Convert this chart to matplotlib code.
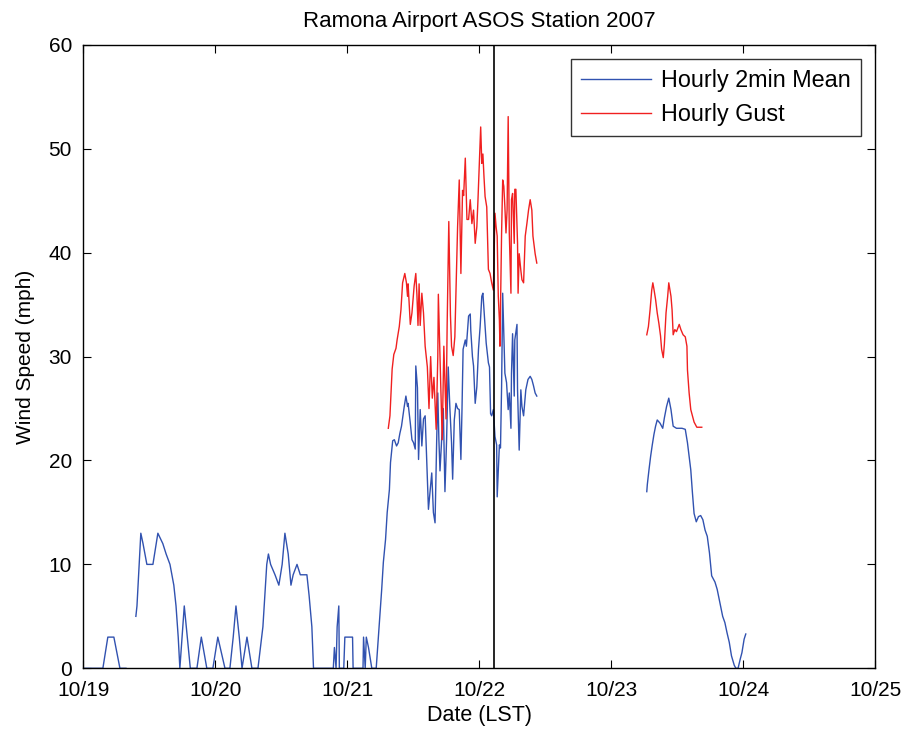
import matplotlib
matplotlib.use('Agg')
import matplotlib.pyplot as plt
import numpy as np

plt.rcParams['font.family'] = ['Liberation Sans', 'DejaVu Sans']

# hours since 10/19 00:00 LST, nan = missing obs
mean_hours = [0.0, 3.6, 4.5, 5.6, 6.7, 7.8, 8.7,
              9.6, 9.8, 10.5, 10.9, 11.6, 12.7, 13.6, 14.5, 15.1, 15.8, 16.5, 16.9, 17.3, 17.6,
              18.4, 19.5, 20.7, 21.5, 22.5, 23.6, 24.5, 25.8, 26.7, 27.3, 27.8, 28.4, 28.9, 29.8,
              30.7, 31.8, 32.7, 33.4, 33.7, 34.1, 34.9, 35.6, 36.2, 36.7, 37.3, 37.8, 38.2, 38.9,
              39.5, 40.7, 41.1, 41.6, 41.9, 45.5, 45.7, 46.0, 46.2, 46.5, 46.6, 47.4, 47.6, 49.0,
              49.1, 50.9, 51.0, 51.3, 51.5, 51.9, 52.2, 52.5, 53.3, 53.5, 53.9, 54.3, 54.6, 55.0,
              55.3, 55.7, 55.9, 56.3, 56.6, 57.0, 57.3, 57.6, 57.9, 58.4, 58.7, 59.0, 59.1, 59.5,
              59.8, 60.1, 60.4, 60.5, 60.8, 61.0, 61.3, 61.6, 61.9, 62.2, 62.5, 62.8, 63.1, 63.4,
              63.7, 64.0, 64.3, 64.5, 64.7, 64.9, 65.2, 65.5, 65.8, 66.1, 66.4, 66.7, 67.0, 67.2,
              67.5, 67.8, 68.1, 68.4, 68.7, 68.9, 69.1, 69.5, 69.7, 70.1, 70.4, 70.5, 70.8, 71.0,
              71.3, 71.6, 71.9, 72.2, 72.5, 72.7, 72.9, 73.3, 73.7, 73.9, 74.1, 74.3, 74.6, 74.9,
              75.2, 75.3, 75.7, 75.9, 76.1, 76.3, 76.5, 76.7, 77.0, 77.3, 77.5, 77.8, 77.9, 78.1,
              78.4, 78.5, 78.9, 79.0, 79.3, 79.6, 79.8, 80.1, 80.5, 80.9, 81.3, 81.6, 81.9, 82.2,
              82.5, 90.0,
              102.5, 102.6, 102.9, 103.2, 103.5, 103.8, 104.1, 104.4, 104.9, 105.4, 105.7, 106.1,
              106.5, 106.9, 107.3, 107.9, 108.9, 109.5, 109.9, 110.2, 110.5, 110.8, 111.1, 111.5,
              111.9, 112.3, 112.7, 113.1, 113.5, 113.9, 114.3, 114.9, 115.3, 115.8, 116.3, 116.7,
              117.1, 117.5, 117.9, 118.4, 118.7, 119.1, 119.5, 119.8, 120.2, 120.5]
mean_mph = [0, 0, 3, 3, 0, 0, np.nan,
            5, 6, 13, 12, 10, 10, 13, 12, 11, 10, 8, 6, 3, 0,
            6, 0, 0, 3, 0, 0, 3, 0, 0, 3, 6, 3, 0, 3,
            0, 0, 4, 10, 11, 10, 9, 8, 10, 13, 11, 8, 9, 10,
            9, 9, 7, 4, 0, 0, 2, 0, 4, 6, 0, 0, 3, 3,
            0, 0, 3, 0, 3, 2, 1, 0, 0, 1.5, 4.4, 7.6, 10.2, 12.4,
            15, 17.2, 19.8, 21.9, 22, 21.4, 21.7, 22.6, 23.3, 25.2, 26.2, 25.2, 25.5, 23.6,
            22, 21.7, 21.1, 29.1, 27, 20.1, 24.9, 21.4, 24, 24.3, 19.8, 15.3, 17, 18.8,
            15, 14, 22, 26.5, 22, 19, 22, 25, 17, 22, 29, 25, 21.7, 18.2,
            23.9, 25.5, 25, 24.9, 20.1, 24.9, 30.7, 31.6, 31, 33.9, 34.1, 32.5, 30, 29.1,
            25.5, 27.1, 30.7, 32.9, 35.8, 36.1, 34.5, 31.3, 29.4, 29, 24.5, 24.3, 24.9, 22.3,
            21.5, 16.5, 21.5, 21.2, 27.1, 36.1, 32.2, 28.4, 27.5, 24.9, 26.5, 23.1, 28.4, 32.2,
            26.2, 31.6, 33.1, 26.8, 21, 26.8, 25.2, 24.3, 26.8, 27.8, 28.1, 27.8, 27.2, 26.5,
            26.2, np.nan,
            17, 17.7, 19.1, 20.4, 21.5, 22.5, 23.3, 23.9, 23.6, 23.1, 24.1, 25.2,
            26, 24.9, 23.3, 23.1, 23.1, 23, 21.7, 20.4, 19.1, 16.9, 14.9, 14.1,
            14.6, 14.7, 14.3, 13.3, 12.7, 11.1, 8.9, 8.3, 7.6, 6.3, 5, 4.4,
            3.4, 2.5, 1.2, 0.3, 0, 0, 0.9, 1.5, 2.8, 3.3]

gust_hours = [55.5, 55.8, 56.0, 56.2, 56.5, 56.9, 57.1, 57.5, 57.8, 58.1, 58.5, 58.8, 59.0,
              59.1, 59.5, 59.8, 60.0, 60.2, 60.5, 60.7, 60.9, 61.1, 61.3, 61.6, 61.9, 62.2,
              62.6, 62.9, 63.2, 63.5, 63.8, 64.2, 64.5, 64.6, 64.9, 65.3, 65.6, 66.0, 66.2,
              66.5, 66.8, 67.0, 67.3, 67.6, 67.8, 68.1, 68.4, 68.7, 69.0, 69.2, 69.5, 69.8,
              70.1, 70.4, 70.7, 71.0, 71.3, 71.6, 71.8, 72.1, 72.3, 72.5, 72.7, 72.9, 73.1,
              73.4, 73.7, 74.0, 74.3, 74.6, 74.9, 75.1, 75.3, 75.5, 75.7, 75.8, 76.1, 76.3,
              76.5, 76.7, 76.9, 77.1, 77.3, 77.5, 77.8, 77.9, 78.1, 78.4, 78.5, 78.7, 79.0,
              79.1, 79.3, 79.6, 79.8, 80.1, 80.4, 80.7, 81.0, 81.3, 81.6, 81.8, 82.2, 82.5,
              90.0,
              102.5, 102.8, 103.1, 103.4, 103.6, 103.8, 104.1, 104.4, 104.7, 105.0, 105.2,
              105.5, 105.7, 106.0, 106.3, 106.5, 106.9, 107.1, 107.3, 107.6, 107.9, 108.4,
              108.7, 109.1, 109.5, 109.8, 109.9, 110.2, 110.5, 110.8, 111.1, 111.6, 112.5]
gust_mph = [23.1, 24.3, 26.5, 28.8, 30.2, 30.8, 31.6, 32.9, 34.5, 37.1, 38, 37.1, 35.8,
            37, 33.1, 34.2, 35.5, 36.8, 38, 36, 33, 37, 33, 36.1, 34.2, 31,
            29, 25, 30, 26, 28, 23, 30, 36, 30, 22, 31, 24, 33,
            43, 34, 31, 30.1, 31.9, 36.1, 42.5, 47, 38, 46, 45.5, 49.1, 43.2,
            43.2, 45.1, 42.8, 44.1, 40.9, 42.5, 45, 49.3, 52.1, 48.6, 49.5, 47.3, 45.4,
            44.4, 38.4, 38, 37.1, 36.4, 43.8, 42.5, 41.6, 35.8, 33.5, 31, 41.9, 47,
            46.4, 44.4, 41.9, 44.1, 53.1, 41.9, 36.1, 45.1, 45.7, 40.9, 46.1, 46.1, 40.9,
            36.1, 39.9, 38.3, 37.4, 37.1, 41.6, 42.8, 44.1, 45.1, 44.1, 41.6, 39.9, 39,
            np.nan,
            32.1, 32.9, 34.5, 36.4, 37.1, 36.5, 35.5, 34.2, 33.2, 32, 30.7,
            29.9, 31.2, 34.2, 35.8, 37.1, 35.8, 34.5, 32.1, 32.6, 32.4, 33.1,
            32.6, 32.1, 31.9, 31, 28.7, 26.5, 24.9, 24.3, 23.7, 23.2, 23.2]

day_labels = ['10/19', '10/20', '10/21', '10/22', '10/23', '10/24', '10/25']
marker_hour = 74.7

fig = plt.figure(figsize=(9.03, 7.36), dpi=100)
ax = fig.add_axes([0.092, 0.092, 0.877, 0.847])

ax.plot(np.array(mean_hours) / 24, mean_mph, color='#3152b0', lw=1.0, label='Hourly 2min Mean')
ax.plot(np.array(gust_hours) / 24, gust_mph, color='#f02020', lw=1.0, label='Hourly Gust')
ax.axvline(marker_hour / 24, color='k', lw=1.2)

ax.set_xlim(0, 6)
ax.set_ylim(0, 60)
ax.set_xticks(range(len(day_labels)))
ax.set_xticklabels(day_labels)
ax.set_yticks(range(0, 61, 10))
ax.tick_params(direction='in', top=True, right=True, length=6, labelsize=15)
ax.tick_params(axis='x', pad=9)
ax.tick_params(axis='y', pad=8)
for s in ax.spines.values():
    s.set_linewidth(1.0)

ax.set_title('Ramona Airport ASOS Station 2007', fontsize=16, pad=13)
ax.set_xlabel('Date (LST)', fontsize=15.5, labelpad=4)
ax.set_ylabel('Wind Speed (mph)', fontsize=15, labelpad=10)

leg = ax.legend(loc='upper right', fontsize=16.8, frameon=True, fancybox=False,
                edgecolor='k', handlelength=3.0, borderaxespad=0.6, borderpad=0.45,
                labelspacing=0.45, handletextpad=0.4)
leg.get_frame().set_linewidth(1.0)

fig.savefig('out.png', dpi=100)
